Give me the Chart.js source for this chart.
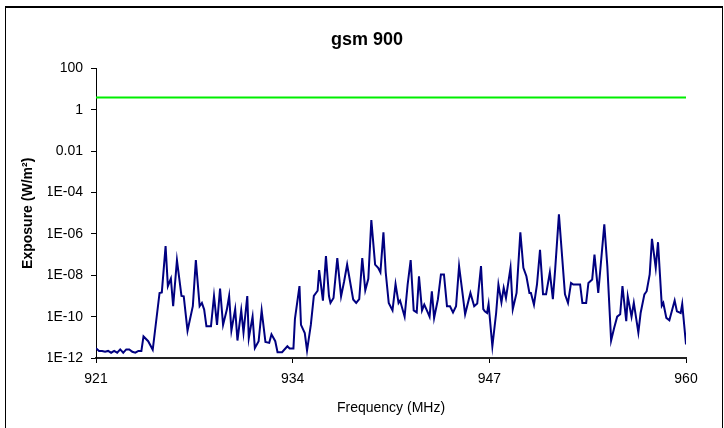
<!DOCTYPE html>
<html>
<head>
<meta charset="utf-8">
<script src="https://cdn.jsdelivr.net/npm/chart.js@4"></script>
<style>
  body { margin: 0; background: #fff; }
  #frame { position: absolute; left: 5px; top: 6px; width: 716px; height: 440px; border: 1px solid #000; border-top-width: 2px; }
  #chart { position: absolute; left: 0; top: 0; }
</style>
</head>
<body>
<div id="frame"></div>
<canvas id="chart" width="724" height="428"></canvas>
<script>
// measured spectrum (MHz / W/m²)
const freqs = [
  921, 921.2, 921.4, 921.6, 921.8, 922, 922.2, 922.4, 922.6, 922.8, 923, 923.2, 923.4, 923.6, 923.8, 924,
  924.14, 924.45, 924.75, 925.2, 925.35, 925.6, 925.75, 925.95, 926.1, 926.35,
  926.65, 926.8, 927.05, 927.4, 927.6, 927.85, 928, 928.15, 928.3, 928.6,
  928.8, 929, 929.2, 929.4, 929.65, 929.8, 929.95, 930.2, 930.35, 930.6,
  930.75, 931, 931.1, 931.35, 931.5, 931.75, 931.95, 932.2, 932.45, 932.6,
  932.85, 933, 933.3, 933.65, 933.8, 934.05, 934.15, 934.45, 934.55, 934.8,
  934.95, 935.2, 935.4, 935.65, 935.75, 936, 936.2, 936.4, 936.5, 936.7,
  936.95, 937.2, 937.4, 937.6, 938, 938.2, 938.4, 938.6, 938.8, 939,
  939.2, 939.45, 939.65, 939.8, 940, 940.15, 940.35, 940.6, 940.8, 941,
  941.1, 941.4, 941.6, 941.8, 942, 942.2, 942.35, 942.55, 942.7, 942.9,
  943.05, 943.2, 943.35, 943.6, 943.8, 944, 944.2, 944.4, 944.6, 944.8,
  945, 945.2, 945.4, 945.75, 946, 946.2, 946.45, 946.6, 946.7, 946.85,
  946.95, 947.2, 947.45, 947.6, 947.8, 947.95, 948.1, 948.4, 948.55, 948.8,
  949.05, 949.25, 949.45, 949.65, 949.75, 949.95, 950.15, 950.35, 950.55, 950.75,
  951, 951.2, 951.35, 951.6, 952, 952.2, 952.4, 952.55, 952.75, 953,
  953.15, 953.4, 953.55, 953.8, 953.95, 954.2, 954.6, 954.8, 955.05, 955.25,
  955.45, 955.65, 955.8, 956.05, 956.15, 956.4, 956.55, 956.85, 957, 957.25,
  957.4, 957.6, 957.75, 958, 958.15, 958.4, 958.5, 958.7, 958.9, 959.25,
  959.4, 959.65, 959.75, 960
];
const exposure = [
  3e-12, 2.2e-12, 2.2e-12, 2e-12, 2.2e-12, 1.8e-12, 2.2e-12, 1.8e-12, 2.6e-12, 1.8e-12, 2.6e-12, 2.6e-12, 2e-12, 1.8e-12, 2.2e-12, 2.2e-12,
  1.1e-11, 6.5e-12, 2.5e-12, 1.4e-9, 1.5e-9, 2.6e-7, 3e-9, 7e-9, 3.2e-10, 5.4e-8,
  1e-9, 9.6e-10, 2.1e-11, 3.2e-10, 5.4e-8, 3.2e-10, 4.6e-10, 2.2e-10, 3.4e-11, 3.4e-11,
  1e-9, 4e-11, 2.3e-9, 4e-11, 2.2e-10, 1e-9, 2.1e-11, 2.3e-10, 7e-12, 2e-10,
  1.7e-11, 1e-9, 9e-12, 1e-10, 3e-12, 6.5e-12, 2e-10, 6e-12, 5.4e-12, 1.4e-11,
  6.5e-12, 1.9e-12, 1.9e-12, 3.7e-12, 2.9e-12, 2.9e-12, 7.8e-11, 3e-9, 4e-11, 1.6e-11,
  2.3e-12, 4e-11, 1e-9, 1.8e-9, 1.8e-8, 6e-10, 8.5e-8, 1e-9, 4.6e-10, 8e-10,
  6.8e-8, 9.6e-10, 5e-9, 3.3e-8, 6.8e-10, 4.6e-10, 7e-10, 6.8e-8, 1.9e-9, 6.8e-9,
  4.7e-6, 3.3e-8, 2.3e-8, 1.4e-8, 1.2e-6, 1.4e-8, 4.6e-10, 2e-10, 3.8e-9, 4.6e-10,
  6e-10, 1e-10, 3.6e-9, 5.4e-8, 2e-10, 1.6e-10, 9e-9, 2e-10, 3.8e-10, 1.8e-10,
  1e-10, 1.7e-9, 8.7e-11, 6.8e-10, 1.1e-8, 1.1e-8, 3.2e-10, 3.2e-10, 1.6e-10, 3.2e-10,
  2.8e-8, 2e-9, 1.3e-10, 1.4e-9, 3.2e-10, 4.3e-10, 2.8e-8, 2.3e-10, 1.8e-10, 1.5e-10,
  4.1e-10, 3.7e-12, 1.5e-10, 3.6e-9, 5e-10, 2.5e-9, 8e-10, 2.3e-8, 2.3e-10, 1.4e-9,
  1.2e-6, 2.3e-8, 9e-9, 1.4e-9, 1.4e-9, 3.8e-10, 3.6e-9, 1.7e-7, 1.2e-9, 1.2e-9,
  1.4e-8, 7e-10, 1.9e-8, 8.9e-6, 1.2e-9, 4.6e-10, 4.3e-9, 3.6e-9, 3.6e-9, 3.6e-9,
  4.6e-10, 4.6e-10, 4.3e-9, 6.3e-9, 1e-7, 1.4e-9, 2.9e-6, 2.8e-8, 7e-12, 2.8e-11,
  1e-10, 1.3e-10, 3e-9, 6e-11, 9.6e-10, 1e-10, 4.6e-10, 1.7e-11, 1.5e-10, 1.2e-9,
  1.7e-9, 1.1e-8, 5.8e-7, 2.3e-8, 4e-7, 3.4e-10, 4.6e-10, 8.7e-11, 6.7e-11, 6e-10,
  1.8e-10, 1.5e-10, 4.1e-10, 4.5e-12
];
// reference level line
const limitFreqs = [921, 960];
const limitValues = [4, 4];

const xTicks = [921, 934, 947, 960];
const yTicks = [1e-12, 1e-10, 1e-8, 1e-6, 1e-4, 0.01, 1, 100];
const yLabels = ['1E-12', '1E-10', '1E-08', '1E-06', '1E-04', '0.01', '1', '100'];

const fontFamily = 'Liberation Sans, Arial, sans-serif';
const tickFont = { family: fontFamily, size: 14 };

const ctx = document.getElementById('chart').getContext('2d');
const chart = new Chart(ctx, {
  type: 'line',
  data: {
    datasets: [
      {
        label: 'limit',
        data: limitFreqs.map((f, i) => ({ x: f, y: limitValues[i] })),
        borderColor: '#00ee00',
        borderWidth: 2,
        pointRadius: 0,
        tension: 0
      },
      {
        label: 'gsm 900',
        data: freqs.map((f, i) => ({ x: f, y: exposure[i] })),
        borderColor: '#000080',
        borderWidth: 2,
        pointRadius: 0,
        tension: 0
      }
    ]
  },
  options: {
    responsive: false,
    devicePixelRatio: 1,
    animation: false,
    // left padding shifts the centred title to where it sits in the original
    layout: { padding: { left: 48, right: 38, top: 0, bottom: 0 } },
    plugins: {
      legend: { display: false },
      tooltip: { enabled: false },
      title: {
        display: true,
        text: 'gsm 900',
        color: '#000',
        font: { family: fontFamily, size: 18, weight: 'bold' },
        padding: { top: 29, bottom: 18 }
      }
    },
    scales: {
      x: {
        type: 'linear',
        min: 921,
        max: 960,
        afterBuildTicks: scale => { scale.ticks = xTicks.map(v => ({ value: v })); },
        afterFit: scale => { scale.height = 70; },
        ticks: { color: '#000', font: tickFont, padding: 8, maxRotation: 0 },
        grid: { drawOnChartArea: false, tickLength: 5, color: '#000' },
        border: { color: '#222', width: 2 },
        title: {
          display: true,
          text: 'Frequency (MHz)',
          color: '#000',
          font: { family: fontFamily, size: 14 },
          padding: { top: 0, bottom: 11 }
        }
      },
      y: {
        type: 'logarithmic',
        min: 1e-12,
        max: 100,
        afterBuildTicks: scale => { scale.ticks = yTicks.map(v => ({ value: v })); },
        afterFit: scale => { scale.width = 48; },
        ticks: {
          color: '#000',
          font: tickFont,
          padding: 8,
          callback: value => {
            const i = yTicks.findIndex(t => Math.abs(Math.log10(t) - Math.log10(value)) < 1e-6);
            return i >= 0 ? yLabels[i] : '';
          }
        },
        grid: { drawOnChartArea: false, tickLength: 5, color: '#000' },
        border: { color: '#000', width: 1 },
        title: {
          display: true,
          text: 'Exposure (W/m²)',
          color: '#000',
          font: { family: fontFamily, size: 14, weight: 'bold' },
          // negative offset puts the title out in the left margin
          padding: { top: -28, bottom: 0 }
        }
      }
    }
  }
});
</script>
</body>
</html>
